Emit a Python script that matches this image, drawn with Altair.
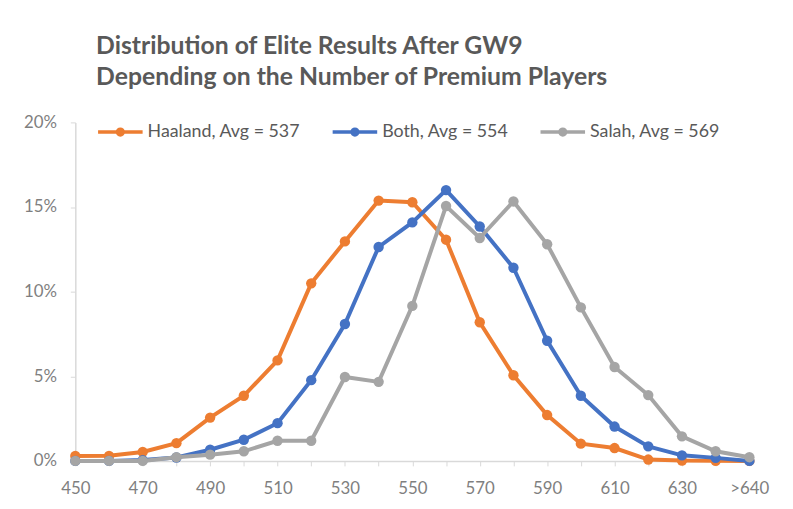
import json
import altair as alt
import pandas as pd

categories = ["450", "460", "470", "480", "490", "500", "510", "520", "530", "540",
              "550", "560", "570", "580", "590", "600", "610", "620", "630", "640", ">640"]

haaland = [0.29, 0.30, 0.53, 1.05, 2.56, 3.85, 5.94, 10.49, 12.97, 15.38,
           15.28, 13.07, 8.19, 5.06, 2.71, 1.02, 0.76, 0.08, 0.02, 0.01, 0.0]
both = [0.0, 0.0, 0.05, 0.2, 0.66, 1.25, 2.23, 4.77, 8.09, 12.64,
        14.09, 16.0, 13.85, 11.41, 7.10, 3.85, 2.03, 0.86, 0.33, 0.18, 0.0]
salah = [0.0, 0.0, 0.0, 0.22, 0.37, 0.57, 1.19, 1.19, 4.96, 4.67,
         9.16, 15.06, 13.17, 15.33, 12.80, 9.07, 5.55, 3.89, 1.45, 0.57, 0.22]

series_names = ["Haaland, Avg = 537", "Both, Avg = 554", "Salah, Avg = 569"]
series_values = [haaland, both, salah]
series_colors = ["#ED7D31", "#4472C4", "#A5A5A5"]

rows = []
for name, vals in zip(series_names, series_values):
    for c, v in zip(categories, vals):
        rows.append({"bin": c, "share": v / 100.0, "series": name})
df = pd.DataFrame(rows)

cats_js = json.dumps(categories)
label_expr = f"indexof({cats_js}, datum.value) % 2 == 0 ? datum.label : ''"

color = alt.Color(
    "series:N",
    scale=alt.Scale(domain=series_names, range=series_colors),
    legend=alt.Legend(
        title=None,
        orient="none",
        legendX=21,
        legendY=-15,
        padding=0,
        direction="horizontal",
        symbolType="M-1,0L1,0M-0.13,0A0.13,0.13 0 1,0 0.13,0A0.13,0.13 0 1,0 -0.13,0",
        symbolSize=2025,
        symbolStrokeWidth=3.5,
        labelFont="Lato",
        labelFontSize=18,
        labelColor="#595959",
        labelOffset=3,
        columnPadding=25,
    ),
)

x = alt.X(
    "bin:O",
    sort=categories,
    scale=alt.Scale(type="point", padding=0),
    axis=alt.Axis(
        title=None,
        labelAngle=0,
        labelExpr=label_expr,
        labelFont="Lato",
        labelFontSize=17,
        labelColor="#7F7F7F",
        labelPadding=15,
        tickColor="#D9D9D9",
        tickSize=5,
        domainColor="#D9D9D9",
        domainWidth=1.5,
        grid=False,
    ),
)
y = alt.Y(
    "share:Q",
    scale=alt.Scale(domain=[0, 0.2], nice=False),
    axis=alt.Axis(
        title=None,
        values=[0, 0.05, 0.1, 0.15, 0.2],
        format=".0%",
        labelFont="Lato",
        labelFontSize=17,
        labelColor="#7F7F7F",
        labelPadding=14,
        tickColor="#D9D9D9",
        tickSize=5,
        domainColor="#D9D9D9",
        domainWidth=1.5,
        grid=False,
    ),
)

layers = []
for name in series_names:
    base = alt.Chart(df).transform_filter(alt.datum.series == name)
    layers.append(base.mark_line(strokeWidth=4).encode(x=x, y=y, color=color))
    layers.append(base.mark_point(filled=True, size=110, opacity=1).encode(x=x, y=y, color=color))

chart = alt.layer(*layers).properties(
    width=681,
    height=342,
    autosize=alt.AutoSizeParams(type="none"),
    padding={"left": 68, "top": 113, "right": 36, "bottom": 46},
    title=alt.TitleParams(
        text=["Distribution of Elite Results After GW9",
              "Depending on the Number of Premium Players"],
        anchor="start",
        frame="group",
        dx=21,
        offset=18,
        font="Lato",
        fontSize=25,
        fontWeight="bold",
        color="#595959",
        lineHeight=31,
    ),
).configure_view(stroke=None)

chart.save("out.html", embed_options={"renderer": "svg", "actions": False})
